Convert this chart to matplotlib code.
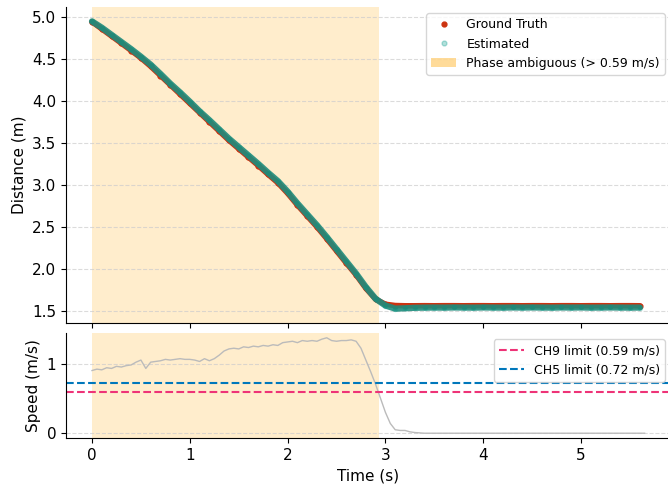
import numpy as np
import matplotlib
matplotlib.use('Agg')
import matplotlib.pyplot as plt
import matplotlib.patches as mpatches
from matplotlib.lines import Line2D

# distance samples every 0.1 s
dist_time = np.round(np.arange(0, 5.7, 0.1), 2)
gt_dist = [4.94, 4.855, 4.77, 4.685, 4.598, 4.51, 4.41, 4.30, 4.19, 4.08,
           3.97, 3.86, 3.75, 3.64, 3.53, 3.43, 3.33, 3.23, 3.125, 3.025,
           2.90, 2.76, 2.63, 2.50, 2.36, 2.215, 2.07, 1.93, 1.77, 1.64,
           1.58, 1.565, 1.562, 1.562, 1.563, 1.562, 1.563, 1.563, 1.562, 1.563,
           1.563, 1.562, 1.563, 1.563, 1.562, 1.563, 1.563, 1.562, 1.563, 1.563,
           1.562, 1.563, 1.563, 1.562, 1.563, 1.563, 1.562]
est_dist = [4.945, 4.87, 4.785, 4.70, 4.615, 4.525, 4.43, 4.32, 4.205, 4.10,
            3.99, 3.875, 3.77, 3.66, 3.55, 3.45, 3.35, 3.25, 3.145, 3.045,
            2.92, 2.78, 2.65, 2.52, 2.38, 2.235, 2.09, 1.945, 1.785, 1.645,
            1.565, 1.528, 1.532, 1.538, 1.540, 1.541, 1.540, 1.542, 1.541, 1.540,
            1.542, 1.541, 1.540, 1.542, 1.541, 1.542, 1.541, 1.540, 1.542, 1.541,
            1.542, 1.540, 1.541, 1.542, 1.541, 1.540, 1.541]

# speed samples every 0.05 s
speed_time = np.round(np.arange(0, 5.70, 0.05), 2)
speed = [0.90, 0.92, 0.91, 0.94, 0.93, 0.96, 0.95, 0.97, 0.98, 1.02,
         1.05, 0.93, 1.02, 1.03, 1.04, 1.06, 1.05, 1.06, 1.07, 1.06,
         1.06, 1.05, 1.03, 1.07, 1.04, 1.07, 1.12, 1.18, 1.21, 1.22,
         1.21, 1.24, 1.23, 1.25, 1.24, 1.26, 1.25, 1.27, 1.26, 1.30,
         1.31, 1.32, 1.30, 1.33, 1.32, 1.33, 1.32, 1.35, 1.37, 1.33,
         1.32, 1.33, 1.33, 1.34, 1.32, 1.22, 1.05, 0.88, 0.70, 0.50,
         0.30, 0.14, 0.05, 0.04, 0.04, 0.02, 0.01, 0.005, 0.0, 0.0,
         0.0, 0.0, 0.0, 0.0, 0.0, 0.0, 0.0, 0.0, 0.0, 0.0,
         0.0, 0.0, 0.0, 0.0, 0.0, 0.0, 0.0, 0.0, 0.0, 0.0,
         0.0, 0.0, 0.0, 0.0, 0.0, 0.0, 0.0, 0.0, 0.0, 0.0,
         0.0, 0.0, 0.0, 0.0, 0.0, 0.0, 0.0, 0.0, 0.0, 0.0,
         0.0, 0.0, 0.0, 0.0]

phase_end = 2.93
ch9_limit = 0.59
ch5_limit = 0.72

c_gt = '#cc3311'
c_est = '#009988'

plt.rc('font', size=11)
fig = plt.figure(figsize=(6.68, 4.87), dpi=100)
ax1 = fig.add_axes([66 / 668, 1 - 323 / 487, 605 / 668, 316 / 487])
ax2 = fig.add_axes([66 / 668, 1 - 438 / 487, 605 / 668, 105 / 487], sharex=ax1)

# top: distance
ax1.axvspan(0, phase_end, color='orange', alpha=0.2, lw=0)
ax1.plot(dist_time, gt_dist, color=c_gt, lw=4, solid_capstyle='round', zorder=2)
ax1.scatter(dist_time, gt_dist, color=c_gt, s=12, zorder=2)
ax1.plot(dist_time, est_dist, color='#1f8c7c', lw=4.5, solid_capstyle='round', alpha=0.9, zorder=3)
ax1.scatter(dist_time, est_dist, color=c_est, s=15, alpha=0.3, lw=0, zorder=3)
ax1.set_ylabel('Distance (m)')
ax1.grid(axis='y', ls='--', color='#cccccc', alpha=0.7, lw=0.8)
ax1.tick_params(labelbottom=False)
for s in ['top', 'right']:
    ax1.spines[s].set_visible(False)

handles = [Line2D([], [], ls='', marker='o', ms=3.5, color=c_gt, label='Ground Truth'),
           Line2D([], [], ls='', marker='o', ms=3.5, color=c_est, alpha=0.3, label='Estimated'),
           mpatches.Patch(color='orange', alpha=0.4, lw=0, label=f'Phase ambiguous (> {ch9_limit} m/s)')]
ax1.legend(handles=handles, loc='upper right', fontsize=9)

# bottom: speed
ax2.axvspan(0, phase_end, color='orange', alpha=0.2, lw=0)
ax2.plot(speed_time, speed, color='#bbbbbb', lw=1)
ax2.axhline(ch9_limit, color='#ee3377', ls='--', lw=1.5, label=f'CH9 limit ({ch9_limit} m/s)')
ax2.axhline(ch5_limit, color='#0077bb', ls='--', lw=1.5, label=f'CH5 limit ({ch5_limit} m/s)')
ax2.set_yticks([0, 1])
ax2.set_ylabel('Speed (m/s)')
ax2.set_xlabel('Time (s)')
ax2.grid(axis='y', ls='--', color='#cccccc', alpha=0.7, lw=0.8)
ax2.legend(loc='upper right', fontsize=9)
for s in ['top', 'right']:
    ax2.spines[s].set_visible(False)

ax1.set_xlim(-0.266, 5.92)

fig.savefig('out.png', dpi=100)
